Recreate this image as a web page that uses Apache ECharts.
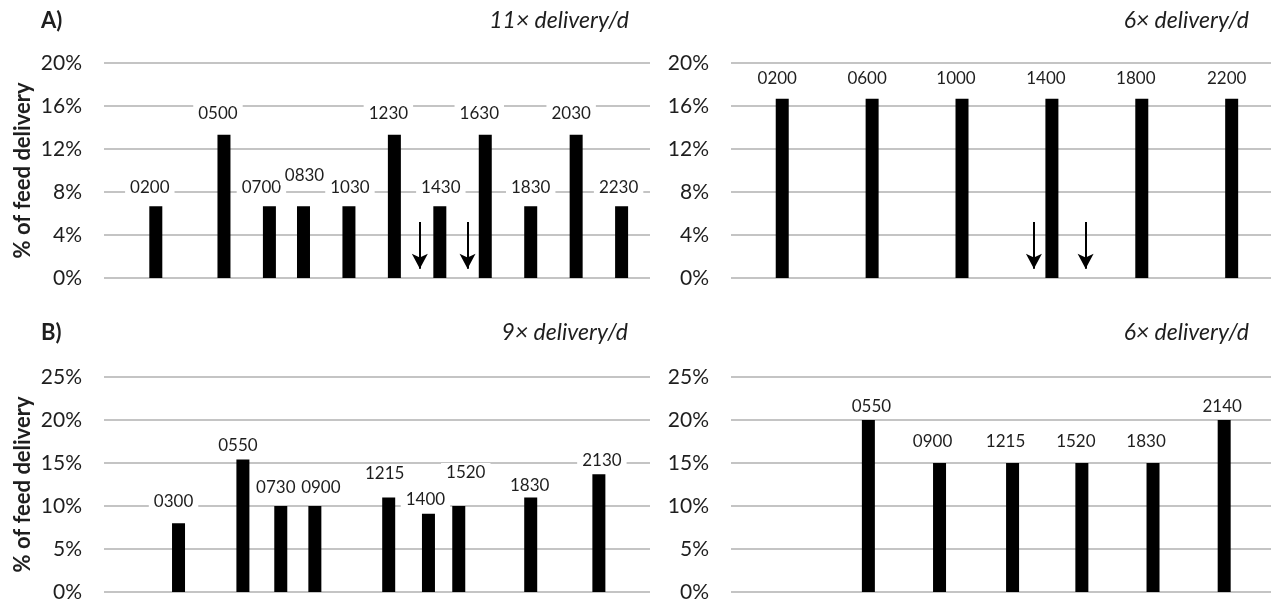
<!DOCTYPE html>
<html>
<head>
<meta charset="utf-8">
<script src="https://cdn.jsdelivr.net/npm/echarts@6/dist/echarts.min.js"></script>
<style>
  html, body { margin: 0; padding: 0; background: #ffffff; }
  #chart { width: 1271px; height: 603px; }
</style>
</head>
<body>
<div id="chart"></div>
<script>
// ---------- DATA ----------
// Feeding times (HHMM) and % of daily feed delivered
const timesA11 = ['0200','0500','0700','0830','1030','1230','1430','1630','1830','2030','2230'];
const valuesA11 = [6.67, 13.33, 6.67, 6.67, 6.67, 13.33, 6.67, 13.33, 6.67, 13.33, 6.67];

const timesA6 = ['0200','0600','1000','1400','1800','2200'];
const valuesA6 = [16.67, 16.67, 16.67, 16.67, 16.67, 16.67];

const timesB9 = ['0300','0550','0730','0900','1215','1400','1520','1830','2130'];
const valuesB9 = [8.0, 15.4, 10.0, 10.0, 11.0, 9.1, 10.0, 11.0, 13.7];

const timesB6 = ['0550','0900','1215','1520','1830','2140'];
const valuesB6 = [20, 15, 15, 15, 15, 20];

// Arrow markers (hour of day) and their vertical extent (% units)
const arrowsA11 = [13.62, 15.72];
const arrowsA6 = [13.2, 15.5];
const arrowTop = 5.2;
const arrowTip = 0.85;

// Axis tick settings
const yMaxA = 20, yStepA = 4;
const yMaxB = 25, yStepB = 5;

// Panel texts
const panelLetters = ['A)', 'B)'];
const panelTitles = ['11× delivery/d', '6× delivery/d', '9× delivery/d', '6× delivery/d'];
const yAxisTitle = '% of feed delivery';

// ---------- STYLE (label nudges, px) ----------
const nudgeA11 = [[-6,0],[-6,-3],[-8,0],[1,-12],[1,0],[-6,-3],[1,0],[-6,-3],[0,0],[-5,-3],[-3,0]];
const nudgeA6 = [[-5,-2],[-5,-2],[-6,-2],[-6,-2],[-6,-2],[-5,-2]];
const nudgeB9 = [[-5,-3],[-5,4],[-5,0],[6,0],[-4,-5],[-3,4],[7,-15],[-1,7],[3,5]];
const nudgeB6 = [[3,5],[-7,-3],[-7,-3],[-6,-3],[-7,-3],[-2,5]];

const FONT = 'Lato';
const TXT = '#1e1e1e';
const GRIDC = '#c4c4c4';

function toHour(t) { return parseInt(t.slice(0,2),10) + parseInt(t.slice(2),10)/60; }

const grids = [
  { left: 104, top: 63, width: 546, height: 215 },
  { left: 731, top: 63, width: 546, height: 215 },
  { left: 104, top: 377, width: 546, height: 215 },
  { left: 731, top: 377, width: 546, height: 215 }
];

function xAx(i) {
  return { type: 'value', gridIndex: i, min: -0.28, max: 23.75,
    axisLine: { show: false }, axisTick: { show: false }, axisLabel: { show: false }, splitLine: { show: false } };
}
function yAx(i, max, step, withName) {
  const a = { type: 'value', gridIndex: i, min: 0, max: max, interval: step,
    axisLine: { show: false }, axisTick: { show: false },
    axisLabel: { formatter: '{value}%', fontFamily: FONT, fontSize: 21, color: TXT, margin: 22 },
    splitLine: { show: true, lineStyle: { color: GRIDC, width: 2 } } };
  if (withName) {
    a.name = yAxisTitle; a.nameLocation = 'middle'; a.nameGap = 70;
    a.nameTextStyle = { fontFamily: FONT, fontWeight: 'bold', fontSize: 22, color: TXT };
  }
  return a;
}

function barSeries(i, times, vals, nudge, arrows) {
  const s = {
    type: 'bar', xAxisIndex: i, yAxisIndex: i, barWidth: 13,
    itemStyle: { color: '#000000' },
    data: times.map((t, k) => ({
      name: t, value: [toHour(t), vals[k]],
      label: { offset: nudge[k] }
    })),
    label: {
      show: true, position: 'top', distance: 9,
      formatter: p => p.name,
      fontFamily: FONT, fontSize: 17, color: TXT, lineHeight: 17,
      backgroundColor: '#ffffff', padding: [1, 5]
    },
    silent: true, animation: false
  };
  if (arrows) {
    s.markLine = {
      silent: true, animation: false,
      symbol: ['none', 'arrow'], symbolSize: [12, 15],
      label: { show: false },
      lineStyle: { color: '#000000', width: 2, type: 'solid' },
      data: arrows.map(h => [{ coord: [h, arrowTop] }, { coord: [h, arrowTip] }])
    };
  }
  return s;
}

function txt(x, y, text, font, align) {
  return { type: 'text', silent: true,
    style: { x: x, y: y, text: text, font: font, fill: TXT, align: align, verticalAlign: 'middle',
             textAlign: align, textVerticalAlign: 'middle' } };
}

const option = {
  backgroundColor: '#ffffff',
  animation: false,
  grid: grids,
  xAxis: [xAx(0), xAx(1), xAx(2), xAx(3)],
  yAxis: [yAx(0, yMaxA, yStepA, true), yAx(1, yMaxA, yStepA, false),
          yAx(2, yMaxB, yStepB, true), yAx(3, yMaxB, yStepB, false)],
  series: [
    barSeries(0, timesA11, valuesA11, nudgeA11, arrowsA11),
    barSeries(1, timesA6, valuesA6, nudgeA6, arrowsA6),
    barSeries(2, timesB9, valuesB9, nudgeB9, null),
    barSeries(3, timesB6, valuesB6, nudgeB6, null)
  ],
  graphic: [
    txt(41, 21, panelLetters[0], 'bold 22px Lato', 'left'),
    txt(41, 333, panelLetters[1], 'bold 22px Lato', 'left'),
    txt(629, 21, panelTitles[0], 'italic 23px Lato', 'right'),
    txt(1249, 21, panelTitles[1], 'italic 23px Lato', 'right'),
    txt(628, 333, panelTitles[2], 'italic 23px Lato', 'right'),
    txt(1249, 333, panelTitles[3], 'italic 23px Lato', 'right')
  ]
};

const chart = echarts.init(document.getElementById('chart'), null, { renderer: 'canvas' });
chart.setOption(option);
</script>
</body>
</html>
